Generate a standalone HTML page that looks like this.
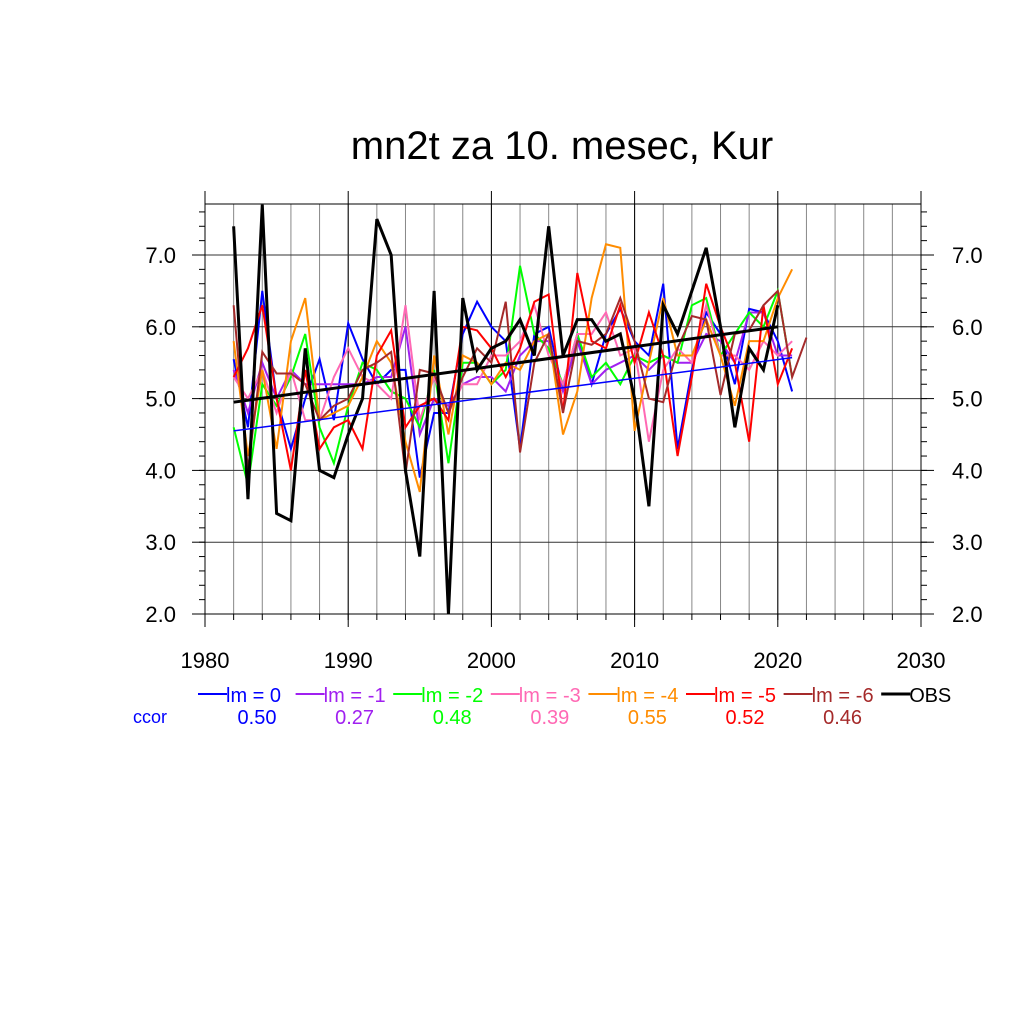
<!DOCTYPE html>
<html><head><meta charset="utf-8"><style>body{margin:0;background:#fff}svg{display:block;font-family:"Liberation Sans",sans-serif}</style></head>
<body>
<svg id="c" width="1024" height="1024" viewBox="0 0 1024 1024">
<text x="562" y="159" font-size="40" text-anchor="middle">mn2t za 10. mesec, Kur</text>
<g id="grid"></g><g id="series"></g><g id="axes"></g><g id="legend"></g>
</svg>
<script>
const years=[];for(let y=1982;y<=2022;y++)years.push(y);
const obs=[7.4,3.6,7.7,3.4,3.3,5.7,4.0,3.9,4.5,5.0,7.5,7.0,4.0,2.8,6.5,2.0,6.4,5.4,5.7,5.8,6.1,5.6,7.4,5.6,6.1,6.1,5.8,5.9,5.0,3.5,6.3,5.9,6.5,7.1,6.0,4.6,5.7,5.4,6.3];
const lm0=[5.55,4.6,6.5,5.0,4.3,5.0,5.55,4.7,6.05,5.55,5.2,5.4,5.4,3.9,4.8,4.8,5.9,6.35,6.0,5.8,4.3,5.9,6.0,5.1,5.9,5.2,5.9,6.25,5.8,5.6,6.6,4.3,5.4,6.2,5.9,5.2,6.25,6.2,5.8,5.1];
const lm1=[5.4,4.8,5.5,5.0,5.4,5.2,5.2,5.2,5.2,5.2,5.3,5.3,6.0,4.5,5.0,4.9,5.2,5.3,5.3,5.1,5.6,5.8,5.8,5.1,5.8,5.2,5.4,5.5,5.6,5.4,5.6,5.5,5.5,5.9,5.8,5.5,6.2,6.2,5.6,5.6];
const lm2=[4.6,3.8,5.2,4.9,5.3,5.9,4.6,4.1,4.9,5.5,5.4,5.1,5.0,4.6,5.4,4.1,5.5,5.5,5.2,5.4,6.85,5.9,5.7,5.2,5.9,5.3,5.5,5.2,5.6,5.5,5.6,5.5,6.3,6.4,5.6,5.9,6.2,6.0,6.5,5.3];
const lm3=[5.3,5.0,5.4,4.8,5.4,4.7,4.7,5.3,5.7,5.3,5.2,5.0,6.3,4.7,5.3,4.8,5.2,5.2,5.6,5.6,5.8,6.3,5.6,5.2,5.9,5.9,6.2,5.6,5.7,4.4,5.4,5.7,5.5,6.3,5.6,5.6,5.4,5.8,5.6,5.8];
const lm4=[5.8,4.2,5.4,4.3,5.8,6.4,4.7,4.8,4.9,5.3,5.8,5.5,4.4,3.7,5.6,4.5,5.6,5.5,5.2,5.5,5.4,5.8,5.9,4.5,5.1,6.4,7.15,7.1,4.55,5.5,6.4,5.6,5.6,6.1,5.6,4.9,5.8,5.8,6.4,6.8];
const lm5=[5.3,5.7,6.3,5.0,4.0,5.4,4.3,4.6,4.7,4.3,5.6,5.95,4.6,4.9,5.0,4.7,6.0,5.95,5.7,5.3,5.7,6.35,6.45,4.8,6.75,5.8,5.7,6.3,5.5,6.2,5.6,4.2,5.3,6.6,6.0,5.5,4.4,6.3,5.2,5.7];
const lm6=[6.3,4.0,5.65,5.35,5.35,5.2,4.7,4.9,5.0,5.4,5.5,5.65,3.95,5.4,5.35,4.8,5.3,5.7,5.5,6.35,4.25,5.5,5.9,4.8,5.8,5.75,5.9,6.4,5.8,5.0,4.95,5.7,6.15,6.1,5.05,5.9,5.95,6.3,6.5,5.3,5.85];
const lm0TrendYears=[1982,2021];
const lm0TrendValues=[4.55,5.57];
const obsTrendYears=[1982,2020];
const obsTrendValues=[4.95,6.0];
const labels=["lm = 0","lm = -1","lm = -2","lm = -3","lm = -4","lm = -5","lm = -6","OBS"];
const ccor=["0.50","0.27","0.48","0.39","0.55","0.52","0.46"];
const colors=["#0000ff","#a020f0","#00ff00","#ff69b4","#ff8c00","#ff0000","#a52a2a","#000000"];
const xTicks=[1980,1990,2000,2010,2020,2030];
const yTicks=[2,3,4,5,6,7];
const X=y=>205+(y-1980)*716/50, Y=v=>614-(v-2)*71.8;
const ns="http://www.w3.org/2000/svg";
function mk(p,t,a){const e=document.createElementNS(ns,t);for(const k in a)e.setAttribute(k,a[k]);p.appendChild(e);return e;}
const G=document.getElementById('grid'),S=document.getElementById('series'),A=document.getElementById('axes'),L=document.getElementById('legend');
const topY=204;
for(let y=1982;y<2030;y+=2){const l=mk(G,'line',{x1:X(y),x2:X(y),y1:topY,y2:614,stroke:'#888','stroke-width':1});
}
xTicks.forEach(t=>{const l=mk(G,'line',{x1:X(t),x2:X(t),y1:topY,y2:614,stroke:'#000','stroke-width':1});

const tx=mk(A,'text',{x:X(t),y:668,'font-size':22,'text-anchor':'middle'});tx.textContent=t;

mk(A,'line',{x1:X(t),x2:X(t),y1:614,y2:627,stroke:'#000'});mk(A,'line',{x1:X(t),x2:X(t),y1:topY,y2:191,stroke:'#000'});});
for(let y=1982;y<2030;y+=2){mk(A,'line',{x1:X(y),x2:X(y),y1:614,y2:620,stroke:'#000'});}
yTicks.forEach(t=>{const l=mk(G,'line',{x1:205,x2:921,y1:Y(t),y2:Y(t),stroke:'#333','stroke-width':1});

const a=mk(A,'text',{x:176,y:Y(t)+8,'font-size':22,'text-anchor':'end'});a.textContent=t.toFixed(1);

const b=mk(A,'text',{x:952,y:Y(t)+8,'font-size':22,'text-anchor':'start'});b.textContent=t.toFixed(1);

mk(A,'line',{x1:192,x2:205,y1:Y(t),y2:Y(t),stroke:'#000'});mk(A,'line',{x1:921,x2:934,y1:Y(t),y2:Y(t),stroke:'#000'});});
for(let v=2;v<=7.7;v+=0.2){mk(A,'line',{x1:199,x2:205,y1:Y(v),y2:Y(v),stroke:'#000'});mk(A,'line',{x1:921,x2:927,y1:Y(v),y2:Y(v),stroke:'#000'});}
mk(A,'rect',{x:205,y:topY,width:716,height:410,fill:'none',stroke:'#000','stroke-width':1});
const all=[lm0,lm1,lm2,lm3,lm4,lm5,lm6,obs];
const names=['series-lm0','series-lm-1','series-lm-2','series-lm-3','series-lm-4','series-lm-5','series-lm-6','series-obs'];
all.forEach((d,i)=>{const pts=d.map((v,j)=>X(years[j])+','+Y(v)).join(' ');
const p=mk(S,'polyline',{points:pts,fill:'none',stroke:colors[i],'stroke-width':i==7?3:2,'stroke-linejoin':'miter'});
});
const t0=mk(S,'line',{x1:X(lm0TrendYears[0]),y1:Y(lm0TrendValues[0]),x2:X(lm0TrendYears[1]),y2:Y(lm0TrendValues[1]),stroke:colors[0],'stroke-width':1.5});


const t1=mk(S,'line',{x1:X(obsTrendYears[0]),y1:Y(obsTrendValues[0]),x2:X(obsTrendYears[1]),y2:Y(obsTrendValues[1]),stroke:'#000','stroke-width':3});


labels.forEach((s,i)=>{const x0=198+i*97.6;
const ln=mk(L,'line',{x1:x0,x2:x0+29,y1:694,y2:694,stroke:colors[i],'stroke-width':i==7?3:2});

const t=mk(L,'text',{x:x0+28,y:702,'font-size':20,fill:colors[i],'textLength':i==7?42:(i==0?55:62)});t.textContent=s;

if(i<7){const c=mk(L,'text',{x:x0+59,y:724,'font-size':20,fill:colors[i],'text-anchor':'middle'});c.textContent=ccor[i];
}});
const cc=mk(L,'text',{x:133,y:723,'font-size':18,fill:'#0000ff'});cc.textContent='ccor';

</script>
</body></html>
